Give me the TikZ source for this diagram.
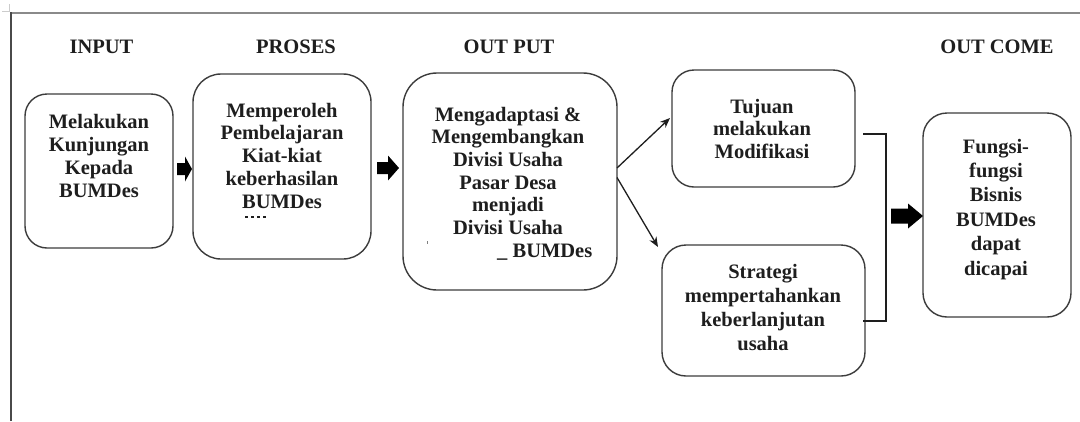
\documentclass[tikz,border=0pt]{standalone}
\usepackage{fontspec}
\setmainfont{Liberation Serif}
\usetikzlibrary{arrows.meta,calc}
\definecolor{boxc}{HTML}{3C3C3C}
\definecolor{txtc}{HTML}{1E1E1E}
\definecolor{framec}{HTML}{4A4A4A}
\definecolor{topc}{HTML}{8A8A8A}
\begin{document}
\begin{tikzpicture}[x=1pt,y=-1pt,
  box/.style={draw=boxc,line width=1.4pt,inner sep=0pt,outer sep=0pt,fill=white},
  txt/.style={align=center,anchor=base,text=txtc,inner sep=0pt,font=\bfseries\fontsize{20.5}{#1}\selectfont},
  txt/.default=23,
  head/.style={anchor=base,text=txtc,inner sep=0pt,font=\bfseries\fontsize{20.5}{23}\selectfont},
  conn/.style={draw=txtc,line width=1.3pt,-{Stealth[length=10pt,width=8pt]}},
  blockarrow/.style={fill=black}
]
\fill[white] (0,0) rectangle (1080,421);
\useasboundingbox (0,0) rectangle (1080,421);
% frame
\draw[topc,line width=1.5pt] (11,13) -- (1080,13);
\draw[framec,line width=1.6pt] (11,421) -- (11,12.3);
\draw[gray!40,line width=1pt] (2,11) -- (10,11);
\draw[gray!40,line width=1pt] (9,4) -- (9,12);
% headers
\node[head] (h1) at (101.5,53) {INPUT};
\node[head] (h2) at (296,53) {PROSES};
\node[head] (h3) at (509,53) {OUT PUT};
\node[head] (h4) at (997,53) {OUT COME};
% boxes
\node[box,rounded corners=22pt,minimum width=148pt,minimum height=154pt] (b1) at (99,171) {};
\node[box,rounded corners=28pt,minimum width=178pt,minimum height=185pt] (b2) at (282,166.5) {};
\node[box,rounded corners=34pt,minimum width=214pt,minimum height=217pt] (b3) at (510,181.5) {};
\node[box,rounded corners=22pt,minimum width=183pt,minimum height=117pt] (b4) at (763.5,128.5) {};
\node[box,rounded corners=24pt,minimum width=203pt,minimum height=131pt] (b5) at (763.5,310.5) {};
\node[box,rounded corners=24pt,minimum width=148pt,minimum height=204pt] (b6) at (997,215) {};
% texts (anchor base = baseline of last line)
\node[txt=23] (t1) at (99,197) {Melakukan\\Kunjungan\\Kepada\\BUMDes};
\node[txt=22.75] (t2) at (282,208) {Memperoleh\\Pembelajaran\\Kiat-kiat\\keberhasilan\\BUMDes};
\draw[txtc,line width=1.2pt,dash pattern=on 3pt off 3pt] (245,217) -- (266,217);
\node[txt=22.7] (t3) at (508,234.5) {Mengadaptasi \&\\Mengembangkan\\Divisi Usaha\\Pasar Desa\\menjadi\\Divisi Usaha};
\node[txt=23,anchor=base west] (t3b) at (497,257) {\_ BUMDes};
\draw[gray,line width=0.8pt] (427,241) -- (427,244);
\node[txt=22.5] (t4) at (762,158) {Tujuan\\melakukan\\Modifikasi};
\node[txt=24] (t5) at (763,350) {Strategi\\mempertahankan\\keberlanjutan\\usaha};
\node[txt=24.4] (t6) at (996,275) {Fungsi-\\fungsi\\Bisnis\\BUMDes\\dapat\\dicapai};
% block arrows
\coordinate (a1) at (177,169);
\coordinate (a2) at (377,168);
\coordinate (a3) at (891,216);
\fill[blockarrow] (a1) ++(0,-6) -- ++(8,0) -- ++(0,-6.5) -- ++(7,12.5) -- ++(-7,12.5) -- ++(0,-6.5) -- ++(-8,0) -- cycle;
\fill[blockarrow] (a2) ++(0,-6) -- ++(11,0) -- ++(0,-6.5) -- ++(11,12.5) -- ++(-11,12.5) -- ++(0,-6.5) -- ++(-11,0) -- cycle;
\fill[blockarrow] (a3) ++(0,-7.5) -- ++(17,0) -- ++(0,-5) -- ++(15,12.5) -- ++(-15,12.5) -- ++(0,-5) -- ++(-17,0) -- cycle;
% connectors
\draw[conn] ([shift={(0,-13.5)}]b3.east) -- ([shift={(-2,-10.5)}]b4.west);
\draw[conn] ([shift={(0,-4)}]b3.east) -- ([shift={(-4,2)}]b5.north west);
\draw[draw=txtc,line width=1.3pt] ([shift={(8,5.5)}]b4.east) -- ++(23,0) |- ([shift={(-2,10.5)}]b5.east);
\end{tikzpicture}
\end{document}
